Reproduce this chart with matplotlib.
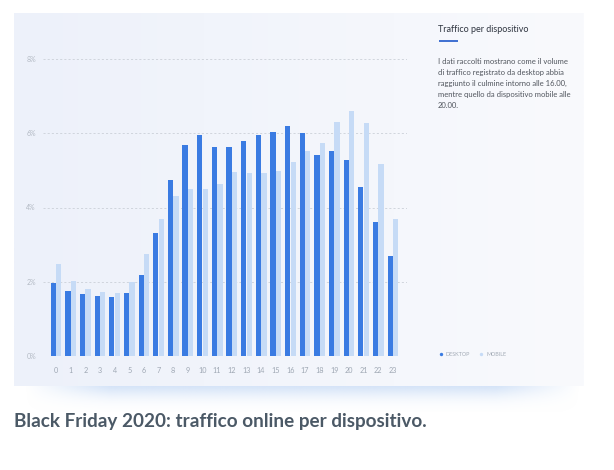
import numpy as np
import matplotlib
matplotlib.use("Agg")
import matplotlib.pyplot as plt
from matplotlib.colors import to_rgb

plt.rcParams['font.family'] = ['Lato', 'DejaVu Sans']

# Data: share of Black Friday 2020 traffic per hour (%)
hours = list(range(24))
desktop = [1.97, 1.76, 1.67, 1.61, 1.58, 1.69, 2.19, 3.30, 4.74, 5.69, 5.95, 5.64,
           5.62, 5.78, 5.95, 6.03, 6.19, 6.00, 5.41, 5.51, 5.27, 4.56, 3.61, 2.69]
mobile = [2.49, 2.01, 1.81, 1.73, 1.69, 1.99, 2.75, 3.68, 4.32, 4.49, 4.51, 4.64,
          4.96, 4.93, 4.92, 4.97, 5.23, 5.51, 5.73, 6.31, 6.59, 6.27, 5.17, 3.68]
y_ticks = [0, 2, 4, 6, 8]
y_labels = ['0%', '2%', '4%', '6%', '8%']
series_names = ['DESKTOP', 'MOBILE']

desktop_color = '#3a7be2'
mobile_color = '#c6dbf6'

W, H = 614, 470
fig = plt.figure(figsize=(W / 100, H / 100), dpi=100)
fig.patch.set_facecolor('white')

# background layer in pixel coordinates
bg = fig.add_axes([0, 0, 1, 1], zorder=0)
bg.set_xlim(0, W)
bg.set_ylim(H, 0)
bg.axis('off')

# soft blue shadow under the card
sx = np.linspace(0, 1, 300)
sy = np.linspace(0, 1, 60)
fx = np.clip(np.minimum(sx / 0.15, (1 - sx) / 0.15), 0, 1)
fy = np.exp(-(sy / 0.5) ** 2)
alpha = np.outer(fy, fx)
shadow = np.zeros((60, 300, 4))
shadow[..., :3] = to_rgb('#cfe0f7')
shadow[..., 3] = alpha
bg.imshow(shadow, extent=[25, 580, 412, 380], aspect='auto', zorder=1, interpolation='bilinear')

# card with horizontal gradient
left_c = np.array(to_rgb('#edf1fa'))
right_c = np.array(to_rgb('#f9fafd'))
t = np.linspace(0, 1, 256)[None, :, None]
grad = left_c * (1 - t) + right_c * t
bg.imshow(grad, extent=[14, 584, 386, 13], aspect='auto', zorder=2)
bg.set_xlim(0, W)
bg.set_ylim(H, 0)

# side panel text
bg.text(438, 30, 'Traffico per dispositivo', fontsize=6.5, color='#2f3540',
        va='center', ha='left', zorder=3)
bg.plot([439, 458], [41, 41], color='#3f6fd1', lw=1.4, zorder=3, solid_capstyle='butt')
para = ('I dati raccolti mostrano come il volume\n'
        'di traffico registrato da desktop abbia\n'
        'raggiunto il culmine intorno alle 16.00,\n'
        'mentre quello da dispositivo mobile alle\n'
        '20.00.')
bg.text(438, 58.5, para, fontsize=5.5, color='#50555d', va='top', ha='left',
        linespacing=1.66, zorder=3)

# legend
bg.scatter([440.7], [354], s=6, color=desktop_color, zorder=3, linewidths=0)
bg.text(446, 354, series_names[0], fontsize=3.9, color='#a3abb6', va='center', zorder=3)
bg.scatter([480.5], [354], s=6, color=mobile_color, zorder=3, linewidths=0)
bg.text(486.5, 354, series_names[1], fontsize=3.9, color='#a3abb6', va='center', zorder=3)

# caption
bg.text(14, 421, 'Black Friday 2020: traffico online per dispositivo.', fontsize=13.6,
        fontweight='bold', color='#4b5966', va='center', ha='left', zorder=3)

# chart
ax = fig.add_axes([43 / W, (H - 356) / H, (407 - 43) / W, (356 - 59) / H], zorder=5)
ax.patch.set_alpha(0)
x = np.array(hours)
ax.bar(x - 0.19, desktop, width=0.36, color=desktop_color, zorder=3)
ax.bar(x + 0.19, mobile, width=0.36, color=mobile_color, zorder=2)
ax.set_xlim(-0.89, 23.96)
ax.set_ylim(0, 8)
ax.set_xticks(hours)
ax.set_xticklabels([str(h) for h in hours], fontsize=5.2, color='#9ea7b3')
ax.set_yticks(y_ticks)
ax.set_yticklabels(y_labels, fontsize=5, color='#b3bac4', ha='left')
ax.tick_params(axis='x', length=0, pad=8)
ax.tick_params(axis='y', length=0, pad=12)
for v in y_ticks[1:]:
    ax.axhline(v, color='#cbd0d8', lw=0.6, ls=(0, (2.5, 2.5)), zorder=1)
for s in ax.spines.values():
    s.set_visible(False)

fig.savefig('out.png', dpi=100, facecolor='white')
